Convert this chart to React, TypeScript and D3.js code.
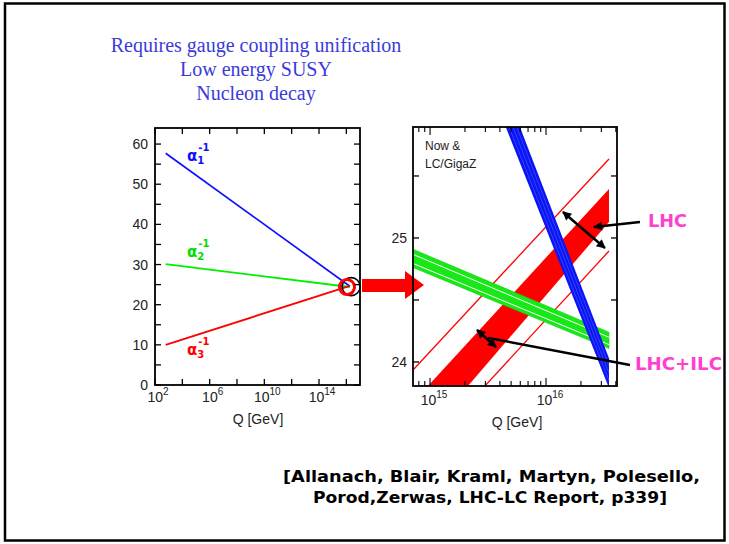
import * as d3 from "d3";

// slide text
const headline = ["Requires gauge coupling unification", "Low energy SUSY", "Nucleon decay"];
const citation = ["[Allanach, Blair, Kraml, Martyn, Polesello,", "Porod,Zerwas, LHC-LC Report, p339]"];
const zoomNote = ["Now  &", "LC/GigaZ"];

// left panel: inverse couplings vs log10(Q/GeV), both ends of each run
const runLogQ = [2.78, 16.26];
const alpha1Inv = [57.7, 24.6];
const alpha2Inv = [30.1, 24.4];
const alpha3Inv = [10.0, 24.7];
const leftYTicks = [0, 5, 10, 15, 20, 25, 30, 35, 40, 45, 50, 55, 60];
const leftYLabels = [0, 10, 20, 30, 40, 50, 60];
const leftXTicks = [2, 4, 6, 8, 10, 12, 14, 16];
const leftXLabels = [2, 6, 10, 14];

// right panel: zoom on the unification point
const zoomLogQ = [14.8, 16.543];
const lhcUpper = [23.882, 25.637];
const lhcLower = [23.121, 24.895];
const ilcUpper = [23.621, 25.395];
const ilcLower = [23.233, 25.129];
const a2Upper = [24.93, 24.24];
const a2Lower = [24.782, 24.108];
const a2SeamTop = [24.889, 24.199];
const a2SeamBottom = [24.815, 24.14];
const blueLogQ = [15.6, 16.543];
const a1Upper = [26.32, 24.03];
const a1Lower = [26.02, 23.79];
const a1Streaks = [
  [26.09, 23.85],
  [26.17, 23.91],
  [26.25, 23.97],
];
const rightYTicks = [24, 24.5, 25, 25.5];
const rightYLabels = [24, 25];
const rightXLabels = [15, 16];

const W = 729;
const H = 544;

const xL = d3.scaleLog().domain([1e2, 1e17]).range([155, 360]);
const yL = d3.scaleLinear().domain([0, 64]).range([385, 128]);
const xR = d3.scaleLog().domain([10 ** 14.853, 10 ** 16.612]).range([413, 617]);
const yR = d3.scaleLinear().domain([23.806, 25.895]).range([386, 127]);

const tickFont = "Liberation Sans, Arial, sans-serif";

function band(lq: number[], lo: number[], hi: number[]) {
  const pts = lq.map((q, i) => ({ q, lo: lo[i], hi: hi[i] }));
  return d3
    .area<{ q: number; lo: number; hi: number }>()
    .x((d) => xR(10 ** d.q))
    .y0((d) => yR(d.lo))
    .y1((d) => yR(d.hi))(pts) as string;
}

function zline(lq: number[], v: number[]) {
  return d3
    .line<number>()
    .x((_, i) => xR(10 ** lq[i]))
    .y((d) => yR(d))(v) as string;
}

function runLine(v: number[]) {
  return d3
    .line<number>()
    .x((_, i) => xL(10 ** runLogQ[i]))
    .y((d) => yL(d))(v) as string;
}

function AlphaLabel({ x, y, idx, color }: { x: number; y: number; idx: number; color: string }) {
  return (
    <text x={x} y={y} fill={color} fontFamily="DejaVu Sans, sans-serif" fontWeight="bold" fontSize={15}>
      α
      <tspan fontSize={10} dy={3}>{idx}</tspan>
      <tspan fontSize={10} dx={-6} dy={-13}>-1</tspan>
    </text>
  );
}

export default function App() {
  const [l0, l1] = yL.range();
  const [r0, r1] = yR.range();
  const lx0 = xL.range()[0], lx1 = xL.range()[1];
  const rx0 = xR.range()[0], rx1 = xR.range()[1];
  const rTicks = xR.ticks();
  const pt = (q: number, a: number): [number, number] => [xR(10 ** q), yR(a)];
  const arrow = (a: [number, number], b: [number, number], both = false, head = true) => (
    <line
      x1={a[0]} y1={a[1]} x2={b[0]} y2={b[1]}
      stroke="black" strokeWidth={2.5}
      markerEnd={head ? "url(#ah)" : undefined}
      markerStart={both ? "url(#ah)" : undefined}
    />
  );

  return (
    <svg width={W} height={H} style={{ position: "absolute", left: 0, top: 0, background: "white" }}>
      <defs>
        <clipPath id="rclip">
          <rect x={rx0} y={r1} width={rx1 - rx0} height={r0 - r1} />
        </clipPath>
        <marker id="ah" viewBox="0 0 10 10" refX={9} refY={5} markerWidth={11} markerHeight={9}
          markerUnits="userSpaceOnUse" orient="auto-start-reverse">
          <path d="M0,0 L10,5 L0,10 z" fill="black" />
        </marker>
      </defs>

      <rect x={5} y={3.5} width={719.5} height={537} fill="white" stroke="black" strokeWidth={2.5} />

      {headline.map((t, i) => (
        <text key={t} x={256} y={52 + i * 24} textAnchor="middle" fill="#3b3bdb"
          fontFamily="Liberation Serif, Times New Roman, serif" fontSize={20}>
          {t}
        </text>
      ))}

      {/* left panel */}
      <path d={runLine(alpha1Inv)} stroke="#1010ff" strokeWidth={1.7} fill="none" />
      <path d={runLine(alpha2Inv)} stroke="#00ee00" strokeWidth={1.9} fill="none" />
      <path d={runLine(alpha3Inv)} stroke="#ff0000" strokeWidth={1.9} fill="none" />
      <circle cx={xL(10 ** 16.35)} cy={yL(24.5)} r={9} fill="none" stroke="black" strokeWidth={1.6} />
      <circle cx={xL(10 ** 16.05)} cy={yL(24.4)} r={7.5} fill="none" stroke="#ff0000" strokeWidth={3} />
      <AlphaLabel x={187} y={yL(55.8)} idx={1} color="#1010ff" />
      <AlphaLabel x={187} y={yL(32)} idx={2} color="#00dd00" />
      <AlphaLabel x={187} y={yL(7.5)} idx={3} color="#ff0000" />

      <rect x={lx0} y={l1} width={lx1 - lx0} height={l0 - l1} fill="none" stroke="black" strokeWidth={1.8} />
      {leftYTicks.map((v) => (
        <g key={"ly" + v}>
          <line x1={lx0} x2={lx0 + 6} y1={yL(v)} y2={yL(v)} stroke="black" strokeWidth={1.3} />
          <line x1={lx1} x2={lx1 - 6} y1={yL(v)} y2={yL(v)} stroke="black" strokeWidth={1.3} />
        </g>
      ))}
      {leftYLabels.map((v) => (
        <text key={"lyl" + v} x={148} y={yL(v) + 5} textAnchor="end" fontFamily={tickFont} fontSize={14} fill="#222">
          {v}
        </text>
      ))}
      {leftXTicks.map((e) => (
        <g key={"lx" + e}>
          <line x1={xL(10 ** e)} x2={xL(10 ** e)} y1={l0} y2={l0 - 6} stroke="black" strokeWidth={1.3} />
          <line x1={xL(10 ** e)} x2={xL(10 ** e)} y1={l1} y2={l1 + 6} stroke="black" strokeWidth={1.3} />
        </g>
      ))}
      {leftXLabels.map((e) => (
        <text key={"lxl" + e} x={xL(10 ** e) + 3} y={402} textAnchor="middle" fontFamily={tickFont} fontSize={14} fill="#222">
          10<tspan fontSize={10} dy={-7}>{e}</tspan>
        </text>
      ))}
      <text x={258} y={424} textAnchor="middle" fontFamily={tickFont} fontSize={14} fill="#222">Q [GeV]</text>

      {/* connecting arrow */}
      <polygon points="362,279 405,279 405,271 424,285 405,299 405,292 362,292" fill="#ff0000" />

      {/* right panel */}
      <g clipPath="url(#rclip)">
        <path d={zline(zoomLogQ, lhcUpper)} stroke="#ff0000" strokeWidth={1.3} fill="none" />
        <path d={zline(zoomLogQ, lhcLower)} stroke="#ff0000" strokeWidth={1.3} fill="none" />
        <path d={band(zoomLogQ, ilcLower, ilcUpper)} fill="#ff0000" />
        <path d={band(zoomLogQ, a2Lower, a2Upper)} fill="#18e818" stroke="#10d010" strokeWidth={0.6} />
        <path d={zline(zoomLogQ, a2SeamTop)} stroke="white" strokeWidth={1} fill="none" />
        <path d={zline(zoomLogQ, a2SeamBottom)} stroke="white" strokeWidth={1} fill="none" />
        <path d={band(blueLogQ, a1Lower, a1Upper)} fill="#0a14f5" />
        {a1Streaks.map((s, i) => (
          <path key={"s" + i} d={zline(blueLogQ, s)} stroke="#4a66ff" strokeWidth={0.6} fill="none" />
        ))}
      </g>

      <rect x={rx0} y={r1} width={rx1 - rx0} height={r0 - r1} fill="none" stroke="black" strokeWidth={1.8} />
      {rightYTicks.map((v) => (
        <g key={"ry" + v}>
          <line x1={rx0} x2={rx0 + 6} y1={yR(v)} y2={yR(v)} stroke="black" strokeWidth={1.3} />
          <line x1={rx1} x2={rx1 - 6} y1={yR(v)} y2={yR(v)} stroke="black" strokeWidth={1.3} />
        </g>
      ))}
      {rightYLabels.map((v) => (
        <text key={"ryl" + v} x={407} y={yR(v) + 5} textAnchor="end" fontFamily={tickFont} fontSize={14} fill="#222">
          {v}
        </text>
      ))}
      {rTicks.map((t, i) => {
        const major = Math.abs(Math.log10(t) - Math.round(Math.log10(t))) < 1e-6;
        const len = major ? 8 : 5;
        return (
          <g key={"rx" + i}>
            <line x1={xR(t)} x2={xR(t)} y1={r0} y2={r0 - len} stroke="black" strokeWidth={1.1} />
            <line x1={xR(t)} x2={xR(t)} y1={r1} y2={r1 + len} stroke="black" strokeWidth={1.1} />
          </g>
        );
      })}
      {rightXLabels.map((e) => (
        <text key={"rxl" + e} x={xR(10 ** e) + 4} y={405} textAnchor="middle" fontFamily={tickFont} fontSize={14} fill="#222">
          10<tspan fontSize={10} dy={-7}>{e}</tspan>
        </text>
      ))}
      <text x={517} y={427} textAnchor="middle" fontFamily={tickFont} fontSize={14} fill="#222">Q [GeV]</text>
      {zoomNote.map((t, i) => (
        <text key={t} x={425} y={150 + i * 18} fontFamily={tickFont} fontSize={12} fill="#222">{t}</text>
      ))}

      {/* annotations */}
      {arrow(pt(16.81, 25.129), pt(16.413, 25.089))}
      {arrow(pt(16.146, 25.21), pt(16.508, 24.919), true)}
      {arrow(pt(16.724, 23.976), pt(15.5, 24.194), false, false)}
      {arrow(pt(15.405, 24.258), pt(15.569, 24.121), true)}

      <text x={648} y={227} fill="#ff3fcf" fontFamily="DejaVu Sans, sans-serif" fontWeight="bold" fontSize={18}
        textLength={39} lengthAdjust="spacingAndGlyphs">LHC</text>
      <text x={635} y={370} fill="#ff3fcf" fontFamily="DejaVu Sans, sans-serif" fontWeight="bold" fontSize={18}
        textLength={87} lengthAdjust="spacingAndGlyphs">LHC+ILC</text>

      <text x={283} y={482} fontFamily="DejaVu Sans, sans-serif" fontWeight="bold" fontSize={16}
        textLength={417} lengthAdjust="spacingAndGlyphs">{citation[0]}</text>
      <text x={313} y={503} fontFamily="DejaVu Sans, sans-serif" fontWeight="bold" fontSize={16}
        textLength={354} lengthAdjust="spacingAndGlyphs">{citation[1]}</text>
    </svg>
  );
}
